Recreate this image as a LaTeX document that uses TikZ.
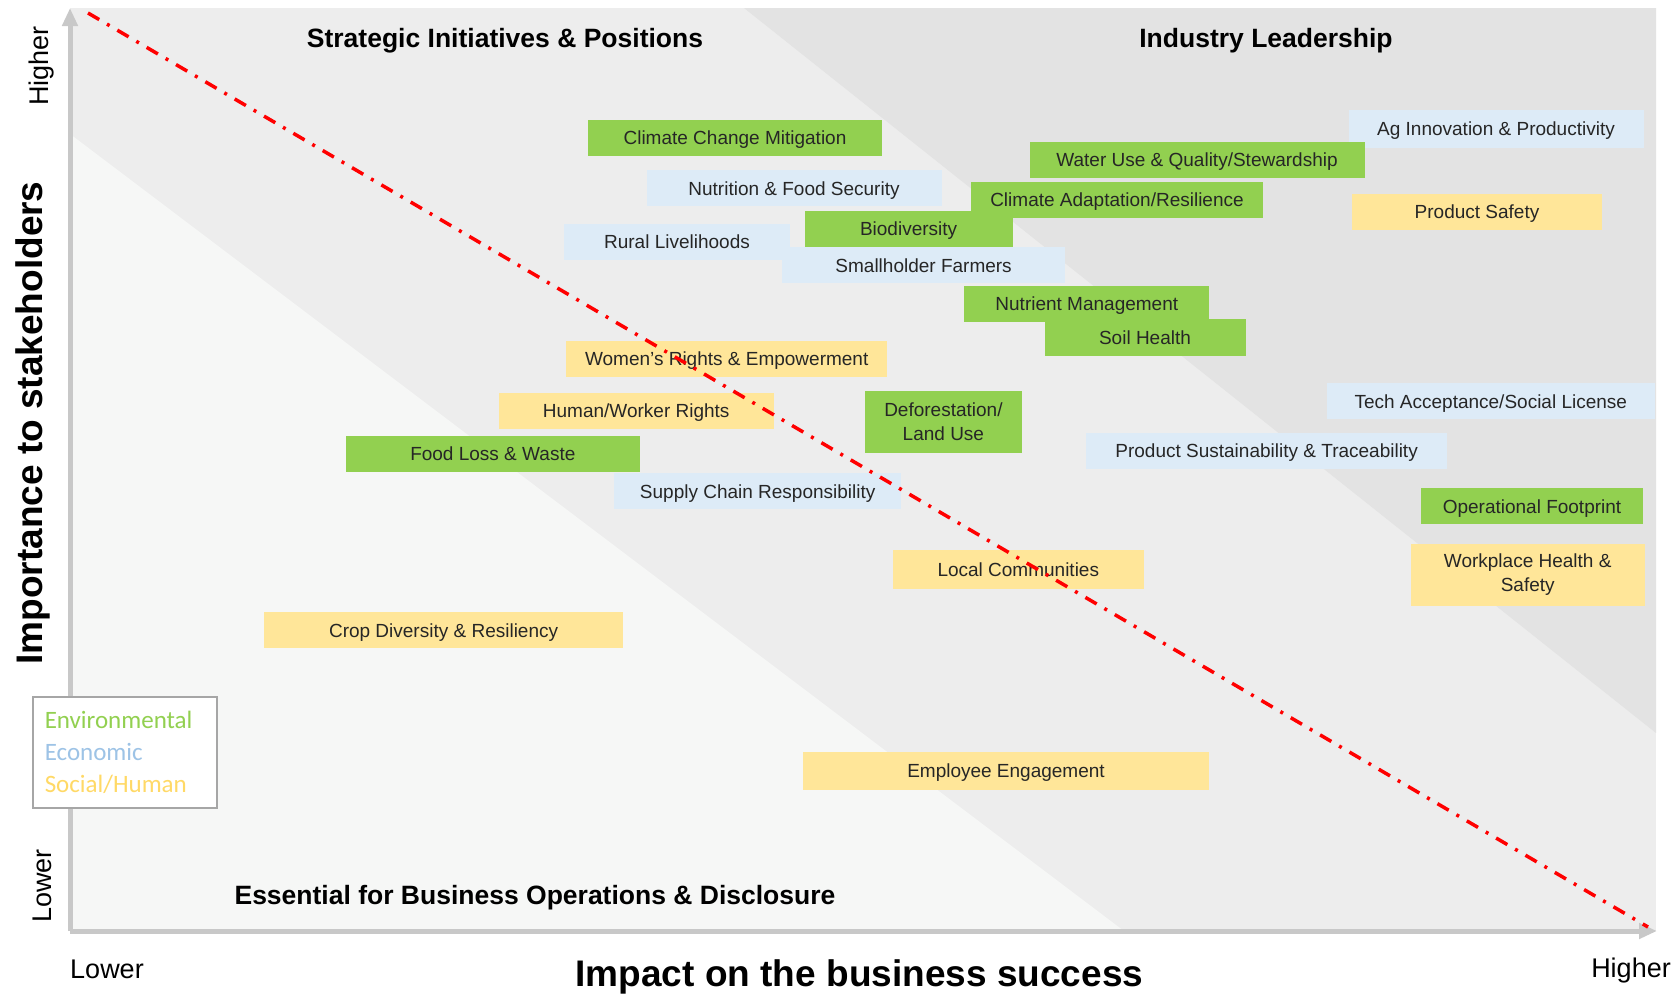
\documentclass[tikz,border=0pt]{standalone}
\usepackage{fontspec}
\setmainfont{Liberation Sans}
\newfontfamily\legendfont{Carlito}
\usetikzlibrary{arrows.meta,positioning}

\definecolor{envgreen}{HTML}{92D050}
\definecolor{econblue}{HTML}{DDEBF7}
\definecolor{socyellow}{HTML}{FFE699}
\definecolor{econtext}{HTML}{9DC3E6}
\definecolor{soctext}{HTML}{FFD966}
\definecolor{bglight}{HTML}{F6F7F6}
\definecolor{bgmid}{HTML}{EDEDED}
\definecolor{bgdark}{HTML}{E3E3E3}
\definecolor{axisgray}{HTML}{C8C8C8}

\begin{document}
\begin{tikzpicture}[x=1pt,y=-1pt,
	topic/.style={minimum height=36pt, inner sep=0pt, font=\fontsize{19}{24.5}\selectfont, text=black!85, align=center},
	oneline/.style={text height=13.6pt, text depth=0pt},
	env/.style={topic, fill=envgreen},
	econ/.style={topic, fill=econblue},
	soc/.style={topic, fill=socyellow},
	zone/.style={font=\fontsize{26.5}{30}\selectfont\bfseries},
	axistitle/.style={font=\fontsize{37}{40}\selectfont\bfseries},
	axisend/.style={font=\fontsize{27}{30}\selectfont},
	axisline/.style={line width=5pt, draw=axisgray, -{Triangle[length=18pt,width=15pt]}}]

	\useasboundingbox (0,0) rectangle (1678,994);

	\fill[bgmid] (70,8) rectangle (1656,931);
	\fill[bglight] (70,134) -- (1124,931) -- (70,931) -- cycle;
	\fill[bgdark] (744,8) -- (1656,8) -- (1656,733) -- cycle;

	\coordinate (origin) at (70,931);
	\coordinate (ytop) at (70,8);
	\coordinate (xend) at (1657,931);
	\draw[axisline] (origin) -- (ytop);
	\draw[axisline] (origin) -- (xend);

	\node[econ, oneline, minimum width=295pt, minimum height=37.5pt] (aginno) at (1496,129) {Ag Innovation \& Productivity};
	\node[env, oneline, minimum width=294pt] (ccm) at (735,138) {Climate Change Mitigation};
	\node[env, oneline, minimum width=335pt] (water) at (1197,159.5) {Water Use \& Quality/Stewardship};
	\node[econ, oneline, minimum width=295pt] (nutrition) at (794,188.4) {Nutrition \& Food Security};
	\node[env, oneline, minimum width=292pt] (adapt) at (1117,200) {Climate Adaptation/Resilience};
	\node[soc, oneline, minimum width=250pt] (safety) at (1477,212) {Product Safety};
	\node[econ, oneline, minimum width=226pt] (rural) at (677,242) {Rural Livelihoods};
	\node[env, oneline, minimum width=208pt] (biodiv) at (908.6,229) {Biodiversity};
	\node[econ, oneline, minimum width=282.5pt] (smallholder) at (923.6,265.4) {Smallholder Farmers};
	\node[env, oneline, minimum width=245pt] (nutrient) at (1086.8,304) {Nutrient Management};
	\node[env, oneline, minimum width=201pt, minimum height=37.5pt] (soil) at (1145,337.6) {Soil Health};
	\node[soc, oneline, minimum width=321pt] (women) at (726.7,358.5) {Women's Rights \& Empowerment};
	\node[econ, oneline, minimum width=327.5pt] (tech) at (1490.8,401.3) {Tech Acceptance/Social License};
	\node[soc, oneline, minimum width=275pt] (human) at (636.2,411) {Human/Worker Rights};
	\node[env, minimum width=157pt, minimum height=62pt] (deforest) at (943.4,421.6) {Deforestation/\\Land Use};
	\node[econ, oneline, minimum width=360.7pt] (prodsust) at (1266.6,450.6) {Product Sustainability \& Traceability};
	\node[env, oneline, minimum width=294pt] (foodloss) at (492.8,453.8) {Food Loss \& Waste};
	\node[econ, oneline, minimum width=287pt] (supply) at (757.7,491.2) {Supply Chain Responsibility};
	\node[env, oneline, minimum width=221.5pt] (footprint) at (1532,506.2) {Operational Footprint};
	\node[soc, oneline, minimum width=251.5pt, minimum height=38.5pt] (local) at (1018.3,569.3) {Local Communities};
	\node[soc, minimum width=234.4pt, minimum height=62pt] (workplace) at (1527.7,574.6) {Workplace Health \&\\Safety};
	\node[soc, oneline, minimum width=358.5pt] (crop) at (443.6,630.3) {Crop Diversity \& Resiliency};
	\node[soc, oneline, minimum width=406.7pt, minimum height=37.5pt] (employee) at (1006,771.1) {Employee Engagement};

	\coordinate (dtop) at (88,13);
	\coordinate (dbot) at (1648,927);
	\draw[red, line width=3.5pt, dash pattern=on 13pt off 9pt on 3pt off 9pt] (dtop) -- (dbot);

	\node[zone] (strategic) at (505,40.7) {Strategic Initiatives \& Positions};
	\node[zone] (leader) at (1266,40.7) {Industry Leadership};
	\node[zone] (essential) at (535,897.9) {Essential for Business Operations \& Disclosure};

	\node[axistitle] (xtitle) at (859.4,977.2) {Impact on the business success};
	\node[axistitle, rotate=90] (ytitle) at (33,423) {Importance to stakeholders};
	\node[axisend] (xlow) at (107,969.6) {Lower};
	\node[axisend] (xhigh) at (1631,970.6) {Higher};
	\node[axisend, rotate=90] (yhigh) at (42,66) {Higher};
	\node[axisend, rotate=90] (ylow) at (42,886) {Lower};

	\node[draw=gray!70, line width=1.5pt, fill=white, anchor=north west, text width=160pt, inner xsep=12pt, minimum height=111pt, align=left, font=\legendfont\fontsize{25}{32}\selectfont] (legend) at (32,696) {\textcolor{envgreen}{Environmental}\\ \textcolor{econtext}{Economic}\\ \textcolor{soctext}{Social/Human}};
\end{tikzpicture}
\end{document}
